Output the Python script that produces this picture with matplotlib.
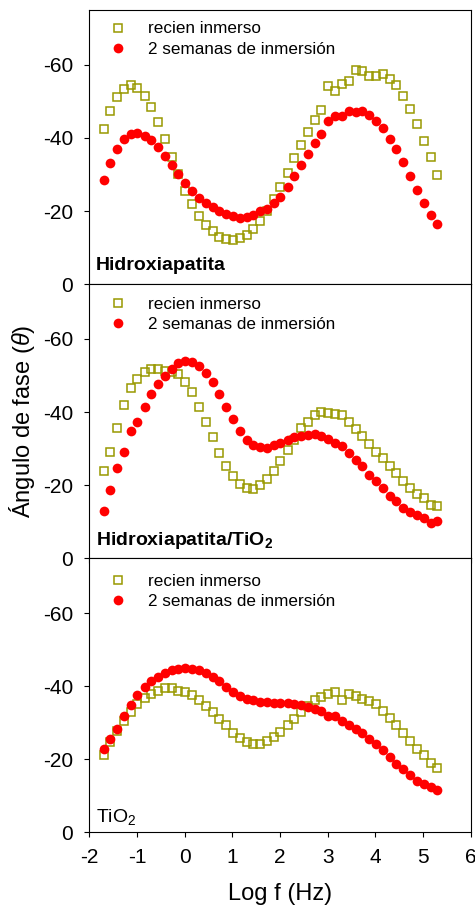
import matplotlib
matplotlib.use("Agg")
import matplotlib.pyplot as plt

plt.rcParams['font.family'] = ['Liberation Sans', 'DejaVu Sans']
plt.rcParams['mathtext.fontset'] = 'custom'
plt.rcParams['mathtext.rm'] = 'Liberation Sans'
plt.rcParams['mathtext.it'] = 'Liberation Sans:italic'
plt.rcParams['mathtext.bf'] = 'Liberation Sans:bold'
plt.rcParams['axes.unicode_minus'] = False

# frequency grid, 7 points per decade
log_f = [-1.70, -1.56, -1.41, -1.27, -1.13, -0.99, -0.84, -0.70, -0.56, -0.41,
         -0.27, -0.13, 0.01, 0.16, 0.30, 0.44, 0.59, 0.73, 0.87, 1.01,
         1.16, 1.30, 1.44, 1.59, 1.73, 1.87, 2.01, 2.16, 2.30, 2.44,
         2.59, 2.73, 2.87, 3.01, 3.16, 3.30, 3.44, 3.59, 3.73, 3.87,
         4.01, 4.16, 4.30, 4.44, 4.59, 4.73, 4.87, 5.01, 5.16, 5.30]

# Hidroxiapatita
ha_recien = [-42.4, -47.3, -51.2, -53.3, -54.4, -53.7, -51.6, -48.5, -44.3, -39.7,
             -34.9, -30.1, -25.6, -22.0, -18.6, -16.1, -14.5, -13.0, -12.3, -12.2,
             -12.5, -13.4, -15.0, -17.4, -20.1, -23.3, -26.5, -30.5, -34.5, -38.0,
             -41.5, -45.0, -47.7, -54.2, -52.7, -54.8, -55.7, -58.5, -58.2, -56.9,
             -56.9, -57.6, -56.2, -54.4, -51.6, -48.0, -43.9, -39.1, -34.8, -29.9]
ha_2sem = [-28.6, -33.0, -36.9, -39.7, -41.1, -41.4, -40.6, -39.3, -37.5, -35.1,
           -32.5, -30.1, -27.6, -25.5, -23.6, -22.2, -21.0, -20.0, -19.1, -18.5,
           -18.2, -18.3, -18.9, -20.0, -20.5, -22.3, -23.9, -26.6, -29.5, -32.5,
           -35.6, -38.6, -41.2, -44.6, -45.9, -45.9, -47.4, -47.2, -47.4, -46.4,
           -44.6, -42.6, -39.8, -36.9, -33.5, -29.6, -25.8, -22.2, -18.9, -16.5]

# Hidroxiapatita/TiO2
hat_recien = [-23.8, -29.1, -35.7, -41.9, -46.5, -49.1, -50.9, -51.8, -51.8, -51.3,
              -50.9, -50.3, -48.3, -45.4, -41.5, -37.2, -33.1, -28.8, -25.3, -22.5,
              -20.4, -19.3, -19.0, -20.0, -21.8, -23.9, -26.5, -29.5, -32.4, -35.6,
              -37.4, -39.1, -39.9, -39.7, -39.5, -39.1, -37.2, -35.4, -33.4, -31.3,
              -29.1, -27.3, -25.3, -23.2, -21.1, -19.1, -17.6, -16.4, -14.5, -14.2]
hat_2sem = [-12.9, -18.8, -24.8, -29.1, -34.9, -37.4, -41.4, -44.9, -47.7, -49.9,
            -51.9, -53.3, -53.9, -53.8, -52.6, -50.7, -48.2, -44.9, -41.4, -38.0,
            -34.9, -32.4, -31.1, -30.3, -30.1, -30.9, -31.6, -32.4, -33.1, -33.5,
            -33.8, -34.0, -33.5, -32.6, -31.6, -30.6, -28.8, -26.9, -25.1, -22.8,
            -21.1, -19.3, -17.0, -15.6, -13.8, -12.7, -11.9, -11.0, -9.7, -10.1]

# TiO2
ti_recien = [-21.1, -24.6, -27.7, -30.4, -32.9, -35.2, -36.8, -37.9, -38.8, -39.5,
             -39.5, -38.8, -38.4, -37.5, -36.3, -34.7, -32.9, -31.1, -29.3, -27.3,
             -25.8, -24.7, -24.3, -24.3, -25.0, -26.1, -27.5, -29.3, -31.1, -32.8,
             -34.5, -36.1, -37.0, -37.8, -38.4, -36.3, -37.9, -37.3, -36.5, -35.9,
             -35.0, -33.2, -31.3, -29.3, -27.2, -25.0, -22.9, -21.1, -19.1, -17.5]
ti_2sem = [-22.9, -25.5, -28.4, -31.8, -34.9, -37.6, -39.7, -41.4, -42.6, -43.6,
           -44.3, -44.7, -44.9, -44.7, -44.3, -43.6, -42.5, -41.3, -39.7, -38.4,
           -37.3, -36.5, -36.1, -35.8, -35.6, -35.5, -35.5, -35.5, -35.2, -34.9,
           -34.3, -33.8, -33.1, -31.8, -31.9, -30.4, -29.3, -28.4, -27.2, -25.5,
           -24.1, -22.5, -20.6, -18.8, -17.2, -15.6, -14.1, -13.1, -12.3, -11.5]

panels = [
    ("Hidroxiapatita", "bold", ha_recien, ha_2sem),
    (r"Hidroxiapatita/TiO$_\mathbf{2}$", "bold", hat_recien, hat_2sem),
    (r"TiO$_\mathrm{2}$", "normal", ti_recien, ti_2sem),
]
legend_top = [0.958, 0.953, 0.943]
label_y = [0.052, 0.049, 0.039]

olive = '#999900'
red = '#ff0000'

fig, axes = plt.subplots(3, 1, figsize=(4.75, 9.07), dpi=100, sharex=True)
fig.subplots_adjust(left=0.188, right=0.991, top=0.989, bottom=0.0823, hspace=0)

for i, (ax, (name, weight, recien, sem)) in enumerate(zip(axes, panels)):
    ax.plot(log_f, recien, linestyle='none', marker='s', markersize=5.6,
            markerfacecolor='none', markeredgecolor=olive, markeredgewidth=1.1,
            label='recien inmerso')
    ax.plot(log_f, sem, linestyle='none', marker='o', markersize=7.0,
            markerfacecolor=red, markeredgecolor=red, markeredgewidth=0,
            label='2 semanas de inmersión')
    ax.set_xlim(-2, 6)
    ax.set_ylim(0, -75)
    ax.set_yticks([0, -20, -40, -60])
    ax.set_xticks(range(-2, 7))
    ax.tick_params(axis='both', direction='out', length=3.5, width=0.8, labelsize=15)
    ax.tick_params(axis='y', pad=8)
    ax.tick_params(axis='x', pad=8)
    for s in ax.spines.values():
        s.set_linewidth(0.8)
    ax.legend(loc='upper left', bbox_to_anchor=(0.053, legend_top[i]), frameon=False,
              borderpad=0, borderaxespad=0, handlelength=1.0, handletextpad=1.25,
              labelspacing=0.3, fontsize=12.3, numpoints=1)
    ax.text(0.018, label_y[i], name, transform=ax.transAxes, fontsize=14,
            fontweight=weight, ha='left', va='baseline')

fig.text(0.046, 0.536, r'Ángulo de fase ($\mathit{\theta}$)', rotation=90,
         ha='center', va='center', fontsize=17)
fig.text(0.589, 0.0143, 'Log f (Hz)', ha='center', va='center', fontsize=17)

fig.savefig('out.png', dpi=100)
